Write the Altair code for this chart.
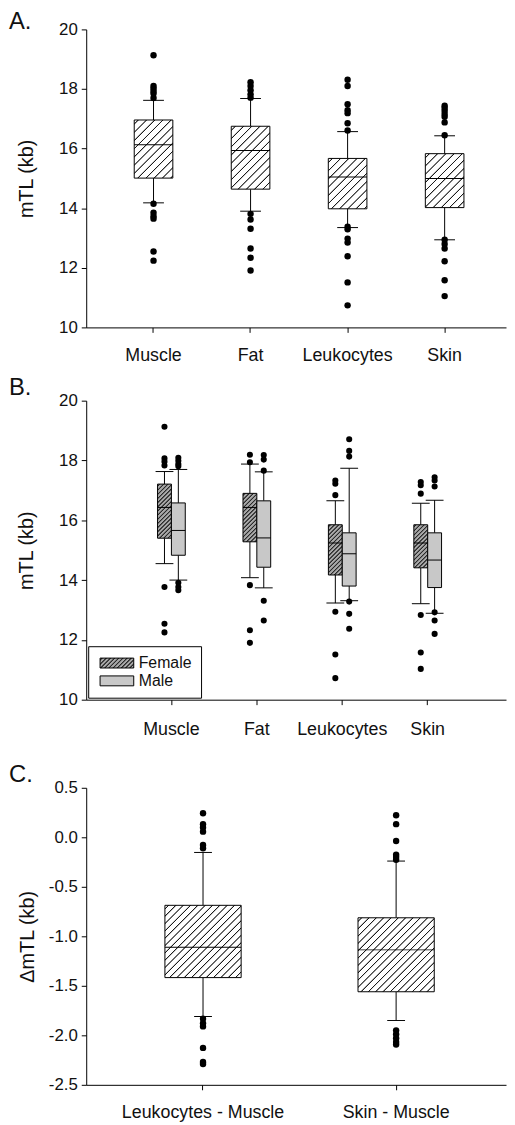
import math
import json
import altair as alt
import pandas as pd

FONT = "Liberation Sans, Arial, Helvetica, sans-serif"
INK = "#111111"

# ---------------- Panel A data ----------------
A_CATS = ["Muscle", "Fat", "Leukocytes", "Skin"]
A_Q1 = [15.01, 14.64, 13.98, 14.02]
A_MED = [16.13, 15.94, 15.05, 15.00]
A_Q3 = [16.96, 16.75, 15.67, 15.83]
A_WLO = [14.18, 13.90, 13.35, 12.94]
A_WHI = [17.62, 17.68, 16.57, 16.43]
A_OUT = [
    [19.13, 18.10, 18.02, 17.93, 17.85, 17.70, 14.15, 13.85, 13.73, 13.65, 12.55, 12.24],
    [18.23, 18.10, 17.96, 17.82, 17.71, 13.81, 13.62, 13.31, 12.65, 12.34, 11.91],
    [18.31, 18.10, 17.49, 17.29, 17.19, 16.85, 16.61, 13.38, 13.29, 12.98, 12.85, 12.39, 11.51, 10.74],
    [17.44, 17.36, 17.27, 17.16, 17.07, 16.88, 16.45, 12.94, 12.80, 12.65, 12.22, 11.58, 11.05],
]

# ---------------- Panel B data ----------------
B_CATS = ["Muscle", "Fat", "Leukocytes", "Skin"]
B_SEXES = ["Female", "Male"]
B_F_Q1 = [15.40, 15.28, 14.17, 14.41]
B_F_MED = [16.43, 16.43, 15.24, 15.24]
B_F_Q3 = [17.21, 16.90, 15.85, 15.85]
B_F_WLO = [14.55, 14.08, 13.23, 13.21]
B_F_WHI = [17.63, 17.88, 16.65, 16.57]
B_F_OUT = [
    [19.13, 18.07, 17.96, 17.83, 13.77, 12.54, 12.25],
    [18.19, 17.94, 13.83, 12.32, 11.90],
    [17.33, 17.22, 16.84, 12.94, 11.51, 10.72],
    [17.28, 17.17, 16.89, 12.83, 11.58, 11.03],
]
B_M_Q1 = [14.83, 14.43, 13.80, 13.75]
B_M_MED = [15.66, 15.41, 14.88, 14.67]
B_M_Q3 = [16.58, 16.65, 15.58, 15.58]
B_M_WLO = [14.00, 13.74, 13.31, 12.89]
B_M_WHI = [17.70, 17.62, 17.74, 16.67]
B_M_OUT = [
    [18.09, 17.99, 17.88, 17.81, 13.91, 13.77, 13.66],
    [18.18, 18.03, 17.66, 13.31, 12.65],
    [18.71, 18.32, 18.13, 13.28, 12.87, 12.37],
    [17.44, 17.33, 17.13, 12.92, 12.65, 12.20],
]

# ---------------- Panel C data ----------------
C_CATS = ["Leukocytes - Muscle", "Skin - Muscle"]
C_Q1 = [-1.417, -1.560]
C_MED = [-1.110, -1.137]
C_Q3 = [-0.687, -0.813]
C_WLO = [-1.810, -1.850]
C_WHI = [-0.153, -0.240]
C_OUT = [
    [0.243, 0.133, 0.100, 0.057, -0.077, -0.110, -1.833, -1.877, -1.910, -2.127, -2.270, -2.290],
    [0.223, 0.133, -0.037, -0.177, -0.200, -0.227, -1.950, -1.990, -2.030, -2.067, -2.093],
]

# ---------------- layout / style constants ----------------
W = 424
A_H, B_H, C_H = 301, 302, 300
A_DOM, B_DOM, C_DOM = [10, 20], [10, 20], [-2.5, 0.5]


def hatch(w, h, spacing, thick, bg, fg):
    """Diagonal '/' hatch as an SVG bounding-box linear gradient."""
    L = w + h
    k = L / (w * w + h * h)
    tc = thick * math.sqrt(2)
    s = 0.8
    stops = [(0.0, bg)]
    c = spacing / 2.0
    while c < L + spacing:
        a, b = c - tc / 2, c + tc / 2
        for off, col in [(a - s / 2, bg), (a + s / 2, fg), (b - s / 2, fg), (b + s / 2, bg)]:
            stops.append((min(max(off / L, 0.0), 1.0), col))
        c += spacing
    stops.append((1.0, bg))
    out, last = [], 0.0
    for o, col in stops:
        o = max(round(o, 5), last)
        last = o
        out.append({"offset": o, "color": col})
    return {"gradient": "linear", "x1": 0, "y1": 0, "x2": round(k * w, 5), "y2": round(k * h, 5), "stops": out}


def xenc(cats, po, al, pad):
    return alt.X(
        "cat:N",
        sort=cats,
        scale=alt.Scale(type="band", domain=cats, paddingInner=0, paddingOuter=po, align=al),
        axis=alt.Axis(title=None, labelAngle=0, labelFontSize=18, labelPadding=pad, bandPosition=0.5,
                      labelFont=FONT, labelColor=INK),
    )


def yaxis(title, values, fmt_expr=None, tpad=22):
    kw = dict(title=title, values=values, titleFontSize=20, titlePadding=tpad, labelFontSize=17,
              labelPadding=4, titleFont=FONT, labelFont=FONT, titleFontWeight="normal",
              titleColor=INK, labelColor=INK)
    if fmt_expr:
        kw["labelExpr"] = fmt_expr
    return alt.Axis(**kw)


def panel_title(t, off):
    return alt.TitleParams(text=t, anchor="start", frame="group", dx=-78, fontSize=24,
                           fontWeight="normal", font=FONT, color=INK, offset=off)


def simple_panel(cats, q1, med, q3, wlo, whi, outs, H, dom, yticks, ytitle, po, al, lpad,
                 bw, cw, sp, title, toff, tpad, fmt_expr=None):
    stats = pd.DataFrame({"cat": cats, "q1": q1, "med": med, "q3": q3, "wlo": wlo, "whi": whi})
    pts = pd.DataFrame([{"cat": c, "val": v} for c, vs in zip(cats, outs) for v in vs])
    X = xenc(cats, po, al, lpad)
    ysc = alt.Scale(domain=dom, nice=False, zero=False)
    Yax = yaxis(ytitle, yticks, fmt_expr, tpad)
    ppu = H / (dom[1] - dom[0])
    base = alt.Chart(stats)
    layers = [
        base.mark_rule(color="black", strokeWidth=1).encode(
            x=X, y=alt.Y("wlo:Q", scale=ysc, axis=Yax), y2="q1:Q"),
        base.mark_rule(color="black", strokeWidth=1).encode(x=X, y=alt.Y("q3:Q", scale=ysc), y2="whi:Q"),
        base.mark_tick(size=cw, thickness=1, color="black", opacity=1).encode(x=X, y=alt.Y("wlo:Q", scale=ysc)),
        base.mark_tick(size=cw, thickness=1, color="black", opacity=1).encode(x=X, y=alt.Y("whi:Q", scale=ysc)),
    ]
    for i, c in enumerate(cats):
        g = hatch(bw, (q3[i] - q1[i]) * ppu, sp, 0.9, "#ffffff", "#1a1a1a")
        layers.append(
            base.transform_filter(alt.datum.cat == c)
            .mark_bar(size=bw, fill=g, stroke="black", strokeWidth=1)
            .encode(x=X, y=alt.Y("q1:Q", scale=ysc), y2="q3:Q")
        )
    layers.append(base.mark_tick(size=bw, thickness=1, color="black", opacity=1).encode(
        x=X, y=alt.Y("med:Q", scale=ysc)))
    layers.append(alt.Chart(pts).mark_circle(size=42, color="black", opacity=1).encode(
        x=X, y=alt.Y("val:Q", scale=ysc)))
    return alt.layer(*layers).properties(width=W, height=H, title=panel_title(title, toff))


chartA = simple_panel(A_CATS, A_Q1, A_MED, A_Q3, A_WLO, A_WHI, A_OUT, A_H, A_DOM,
                      [10, 12, 14, 16, 18, 20], "mTL (kb)", 0.163, 0.594, 14, 39, 21, 8.3, "A.", -14, 22)

chartC = simple_panel(C_CATS, C_Q1, C_MED, C_Q3, C_WLO, C_WHI, C_OUT, C_H, C_DOM,
                      [-2.5, -2.0, -1.5, -1.0, -0.5, 0.0, 0.5], "ΔmTL (kb)", 0.087, 0.603, 14, 77, 18, 7.4,
                      "C.", -8, 11, fmt_expr="replace(format(datum.value, '.1f'), '\u2212', '-')")

# ---------------- Panel B ----------------
BW, BCW, OFF = 14, 18, 7
bF = pd.DataFrame({"cat": B_CATS, "sex": "Female", "q1": B_F_Q1, "med": B_F_MED, "q3": B_F_Q3,
                   "wlo": B_F_WLO, "whi": B_F_WHI})
bM = pd.DataFrame({"cat": B_CATS, "sex": "Male", "q1": B_M_Q1, "med": B_M_MED, "q3": B_M_Q3,
                   "wlo": B_M_WLO, "whi": B_M_WHI})
pF = pd.DataFrame([{"cat": c, "val": v} for c, vs in zip(B_CATS, B_F_OUT) for v in vs])
pM = pd.DataFrame([{"cat": c, "val": v} for c, vs in zip(B_CATS, B_M_OUT) for v in vs])

XB = xenc(B_CATS, 0.457, 0.544, 16)
ysB = alt.Scale(domain=B_DOM, nice=False, zero=False)
ppuB = B_H / (B_DOM[1] - B_DOM[0])
F_BG, F_FG, SP_F = "#a8a8a8", "#2a2a2a", 4.2

legend_grad = hatch(34, 10, SP_F, 1.1, F_BG, F_FG)
legend_expr = json.dumps(legend_grad)

blayers = []
for df, pts, dx in [(bF, pF, -OFF), (bM, pM, OFF)]:
    bb = alt.Chart(df)
    blayers += [
        bb.mark_rule(color="black", strokeWidth=1, xOffset=dx).encode(
            x=XB, y=alt.Y("wlo:Q", scale=ysB, axis=yaxis("mTL (kb)", [10, 12, 14, 16, 18, 20])), y2="q1:Q"),
        bb.mark_rule(color="black", strokeWidth=1, xOffset=dx).encode(x=XB, y=alt.Y("q3:Q", scale=ysB), y2="whi:Q"),
        bb.mark_tick(size=BCW, thickness=1, color="black", opacity=1, xOffset=dx).encode(
            x=XB, y=alt.Y("wlo:Q", scale=ysB)),
        bb.mark_tick(size=BCW, thickness=1, color="black", opacity=1, xOffset=dx).encode(
            x=XB, y=alt.Y("whi:Q", scale=ysB)),
    ]

for i, c in enumerate(B_CATS):
    g = hatch(BW, (B_F_Q3[i] - B_F_Q1[i]) * ppuB, SP_F, 1.1, F_BG, F_FG)
    blayers.append(
        alt.Chart(bF).transform_filter(alt.datum.cat == c)
        .mark_bar(size=BW, fill=g, stroke="black", strokeWidth=1, xOffset=-OFF)
        .encode(x=XB, y=alt.Y("q1:Q", scale=ysB), y2="q3:Q")
    )

blayers.append(
    alt.Chart(bM).mark_bar(size=BW, stroke="black", strokeWidth=1, xOffset=OFF).encode(
        x=XB, y=alt.Y("q1:Q", scale=ysB), y2="q3:Q",
        fill=alt.Fill("sex:N", scale=alt.Scale(domain=B_SEXES, range=[{"expr": legend_expr}, "#c8c8c8"]),
                      legend=alt.Legend(orient="none", legendX=2, legendY=248, title=None,
                                        symbolType="M-3.4,-1H3.4V1H-3.4Z", symbolSize=100,
                                        symbolOffset=12, labelOffset=14, symbolStrokeColor="black",
                                        symbolStrokeWidth=1, labelFontSize=16, labelFont=FONT,
                                        labelColor=INK, strokeColor="black", padding=9,
                                        rowPadding=2, fillColor="white", symbolOpacity=1)),
    )
)

for df, pts, dx in [(bF, pF, -OFF), (bM, pM, OFF)]:
    blayers.append(alt.Chart(df).mark_tick(size=BW, thickness=1, color="black", opacity=1, xOffset=dx).encode(
        x=XB, y=alt.Y("med:Q", scale=ysB)))
    blayers.append(alt.Chart(pts).mark_circle(size=38, color="black", opacity=1, xOffset=dx).encode(
        x=XB, y=alt.Y("val:Q", scale=ysB)))

chartB = alt.layer(*blayers).properties(width=W, height=B_H, title=panel_title("B.", -8))

upper = alt.vconcat(chartA, chartB, spacing=10).resolve_legend(fill="independent")
chart = (
    alt.vconcat(upper, chartC, spacing=23)
    .resolve_legend(fill="independent")
    .properties(padding={"top": -4, "left": 0, "right": 0, "bottom": 0})
    .configure_view(stroke="transparent")
    .configure_axis(domainColor="black", tickColor="black", grid=False, tickSize=5,
                    domainWidth=1, tickWidth=1)
)

chart.save("out.html", embed_options={"renderer": "svg", "actions": False})
